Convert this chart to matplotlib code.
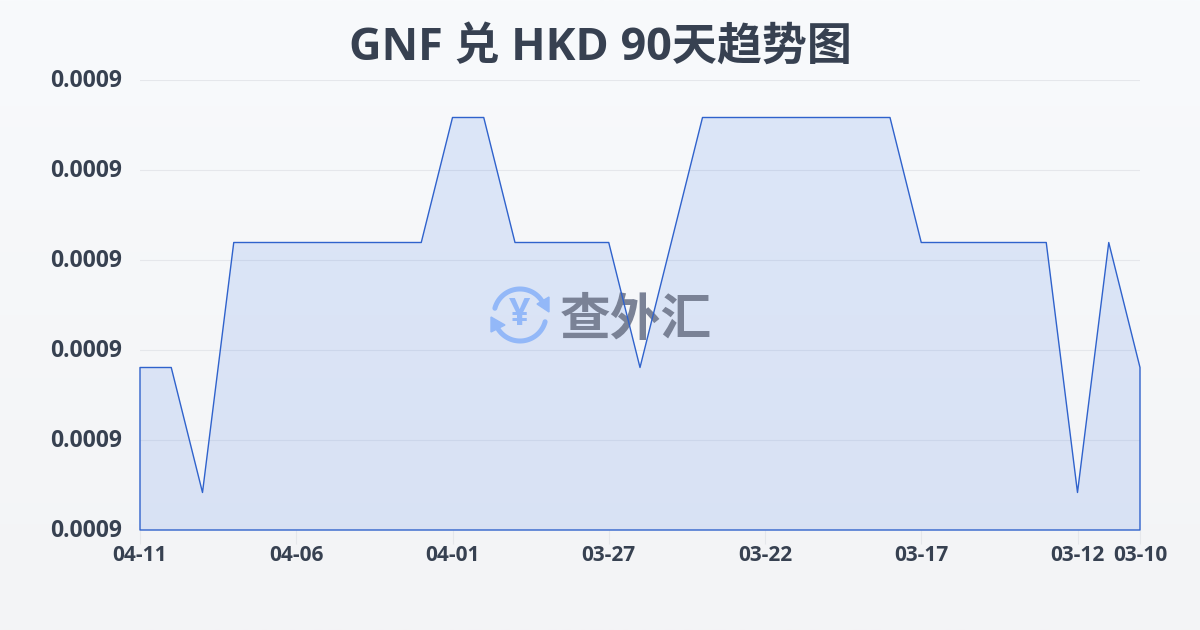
import numpy as np
import matplotlib
matplotlib.use("Agg")
import matplotlib.pyplot as plt
from matplotlib.colors import LinearSegmentedColormap
from matplotlib.transforms import Affine2D, ScaledTranslation

plt.rcParams['font.family'] = ['Open Sans', 'Noto Sans CJK SC', 'DejaVu Sans']

# data, newest day first
dates = ["04-11", "04-10", "04-09", "04-08", "04-07", "04-06", "04-05", "04-04", "04-03",
         "04-02", "04-01", "03-31", "03-30", "03-29", "03-28", "03-27", "03-26", "03-25",
         "03-24", "03-23", "03-22", "03-21", "03-20", "03-19", "03-18", "03-17", "03-16",
         "03-15", "03-14", "03-13", "03-12", "03-11", "03-10"]
rates = [0.000902, 0.000902, 0.000901, 0.000903, 0.000903, 0.000903, 0.000903, 0.000903, 0.000903,
         0.000903, 0.000904, 0.000904, 0.000903, 0.000903, 0.000903, 0.000903, 0.000902, 0.000903,
         0.000904, 0.000904, 0.000904, 0.000904, 0.000904, 0.000904, 0.000904, 0.000903, 0.000903,
         0.000903, 0.000903, 0.000903, 0.000901, 0.000903, 0.000902]
x_labels = ["04-11", "04-06", "04-01", "03-27", "03-22", "03-17", "03-12", "03-10"]
y_ticks = [0.0009007, 0.00090142, 0.00090214, 0.00090286, 0.00090358, 0.0009043]
title = "GNF 兑 HKD 90天趋势图"

TEXT = "#374151"
GRID = "#e5e7eb"
LINE = "#2f62cc"

fig = plt.figure(figsize=(12, 6.3), dpi=100)

# page background
bg_ax = fig.add_axes([0, 0, 1, 1])
bg_cmap = LinearSegmentedColormap.from_list("page", ["#f8fafc", "#f3f4f6"])
bg_ax.imshow(np.linspace(0, 1, 256).reshape(-1, 1), aspect="auto", cmap=bg_cmap, extent=(0, 1, 0, 1))
bg_ax.axis("off")

ax = fig.add_axes([140 / 1200, 100 / 630, 1000 / 1200, 450 / 630])
ax.patch.set_alpha(0)

xs = np.arange(len(dates))
ax.fill_between(xs, rates, y_ticks[0], facecolor=(0.15, 0.40, 0.90, 0.13), linewidth=0, zorder=2)
ax.fill_between(xs, rates, y_ticks[0], facecolor="none", edgecolor=LINE, linewidth=1.0, zorder=4, clip_on=False)

ax.set_xlim(0, len(dates) - 1)
ax.set_ylim(y_ticks[0], y_ticks[-1])
ax.set_yticks(y_ticks)
ax.set_yticklabels([f"{v:.4f}" for v in y_ticks], fontsize=16.5, fontweight="bold", color=TEXT)
ax.set_xticks([dates.index(d) for d in x_labels])
ax.set_xticklabels(x_labels, fontsize=15, fontweight="bold", color=TEXT)
ax.tick_params(axis="y", length=0, pad=13)
ax.tick_params(axis="x", length=10, width=0.8, color=GRID, pad=1)
ax.grid(axis="y", color=GRID, linewidth=0.8, zorder=1)
ax.set_axisbelow(True)
for s in ax.spines.values():
    s.set_visible(False)

# y labels sit a touch above their grid lines
up = ScaledTranslation(0, 1.5 / 72, fig.dpi_scale_trans)
for lab in ax.get_yticklabels():
    lab.set_transform(lab.get_transform() + up)

# watermark, placed in pixels from the top left
px = Affine2D().scale(1, -1).translate(0, 630)
ICON = "#93b8f8"
cx, cy, r = 520, 315, 26
for a0, a1 in [(25, 165), (205, 345)]:
    t = np.radians(np.linspace(a0, a1, 60))
    ax.plot(cx + r * np.cos(t), cy - r * np.sin(t), color=ICON, lw=3.6, transform=px,
            clip_on=False, solid_capstyle="round", zorder=3)
ax.fill([537, 549, 549], [304, 297, 312], color=ICON, transform=px, clip_on=False, zorder=3)
ax.fill([491, 505, 491], [317, 325, 332], color=ICON, transform=px, clip_on=False, zorder=3)
ax.text(cx, cy, "¥", fontsize=27, fontweight="bold", color=ICON, ha="center", va="center",
        transform=px, zorder=3, family=["Open Sans"])
ax.text(636, 320, "查外汇", fontsize=36.5, fontweight="bold", color="#7a8296", ha="center", va="center",
        transform=px, zorder=3, family=["Noto Sans CJK SC"])

ax.set_xlim(0, len(dates) - 1)
ax.set_ylim(y_ticks[0], y_ticks[-1])

fig.text(0.5, 1 - 48 / 630, title, fontsize=32.4, fontweight="bold", color=TEXT, ha="center", va="center")

fig.savefig("out.png", dpi=100)
